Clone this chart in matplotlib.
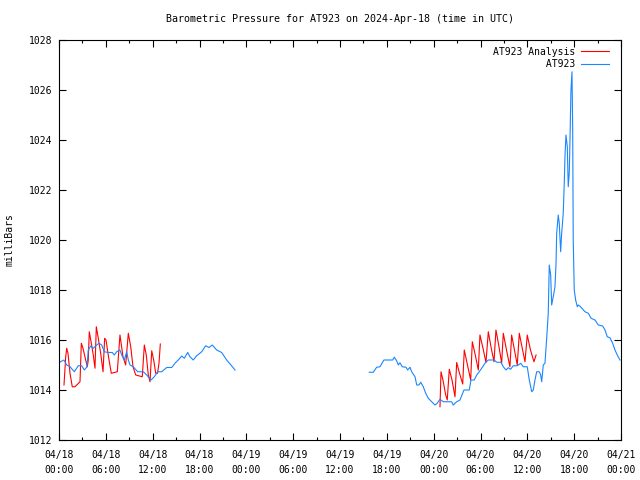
from datetime import datetime, timedelta
import matplotlib
matplotlib.use("Agg")
import matplotlib.pyplot as plt
import matplotlib.dates as mdates
import numpy as np

START = datetime(2024, 4, 18)

# observations, hours since 2024-04-18 00:00 UTC (two runs with a gap)
obs_hours_a = [0.13, 0.64, 0.99, 1.41, 1.96, 2.47, 2.91, 3.24, 3.59, 3.75, 4.06, 4.39,
               4.83, 5.12, 5.47, 5.80, 6.32, 6.83, 7.08, 7.39, 7.81, 8.03, 8.37, 8.67,
               8.88, 9.10, 9.52, 10.08, 10.80, 11.24, 11.79, 12.21, 12.64, 13.16, 13.80,
               14.44, 14.86, 15.28, 15.72, 16.05, 16.49, 16.78, 17.20, 17.64, 18.28,
               18.79, 19.22, 19.64, 20.20, 20.84, 21.48, 22.03, 22.55]
obs_mb_a = [1015.12, 1015.2, 1015.0, 1014.93, 1014.73, 1014.97, 1014.97, 1014.8,
            1014.93, 1015.6, 1015.76, 1015.67, 1015.8, 1015.87, 1015.8, 1015.53,
            1015.5, 1015.5, 1015.4, 1015.53, 1015.6, 1015.4, 1015.2, 1015.53, 1015.2,
            1015.0, 1014.93, 1014.73, 1014.73, 1014.6, 1014.4, 1014.53, 1014.73,
            1014.73, 1014.9, 1014.9, 1015.07, 1015.2, 1015.36, 1015.27, 1015.5,
            1015.33, 1015.2, 1015.37, 1015.53, 1015.77, 1015.7, 1015.8, 1015.6,
            1015.5, 1015.2, 1015.0, 1014.8]

obs_hours_b = [39.75, 40.26, 40.70, 41.12, 41.63, 42.75, 42.95, 43.26, 43.47, 43.68,
               43.98, 44.45, 44.67, 44.97, 45.18, 45.61, 45.83, 46.12, 46.34, 46.67,
               46.98, 47.31, 47.75, 48.17, 48.46, 48.81, 49.23, 49.74, 50.31, 50.51,
               50.95, 51.37, 51.88, 52.56, 52.78, 53.20, 53.51, 53.84, 54.28, 54.57,
               54.99, 55.76, 56.07, 56.62, 56.92, 57.26, 57.56, 57.86, 58.20, 58.71,
               59.15, 59.48, 59.99, 60.25, 60.43, 60.56, 60.76, 60.98, 61.20, 61.53,
               61.71, 61.84, 62.04, 62.26, 62.48, 62.68, 62.81, 62.99, 63.12, 63.32,
               63.54, 63.67, 63.76, 63.96, 64.09, 64.27, 64.40, 64.60, 64.73, 64.82,
               64.95, 65.12, 65.24, 65.37, 65.46, 65.59, 65.72, 65.81, 65.88, 66.01,
               66.19, 66.40, 66.53, 66.75, 67.39, 67.81, 68.16, 68.67, 69.09, 69.65,
               69.95, 70.24, 70.59, 70.93, 71.23, 71.52, 71.87]
obs_mb_b = [1014.71, 1014.71, 1014.91, 1014.93, 1015.2, 1015.2, 1015.31, 1015.17,
            1015.0, 1015.09, 1014.93, 1014.91, 1014.8, 1014.91, 1014.73, 1014.53,
            1014.2, 1014.2, 1014.31, 1014.13, 1013.87, 1013.67, 1013.53, 1013.4,
            1013.47, 1013.63, 1013.53, 1013.53, 1013.53, 1013.4, 1013.53, 1013.6,
            1014.0, 1014.0, 1014.4, 1014.4, 1014.6, 1014.73, 1014.93, 1015.07,
            1015.2, 1015.2, 1015.11, 1015.11, 1014.93, 1014.8, 1014.89, 1014.83,
            1014.97, 1014.97, 1015.07, 1014.93, 1014.93, 1014.4, 1014.13, 1013.93,
            1014.0, 1014.4, 1014.73, 1014.73, 1014.6, 1014.33, 1015.0, 1015.07,
            1016.07, 1017.07, 1019.0, 1018.6, 1017.4, 1017.73, 1018.13, 1019.0,
            1020.27, 1021.0, 1020.67, 1019.53, 1020.27, 1021.07, 1022.27, 1023.33,
            1024.2, 1023.73, 1022.13, 1022.67, 1023.93, 1026.0, 1026.73, 1024.47,
            1020.0, 1018.0, 1017.6, 1017.33, 1017.4, 1017.35, 1017.13, 1017.07,
            1016.87, 1016.8, 1016.6, 1016.56, 1016.4, 1016.13, 1016.09, 1015.87,
            1015.6, 1015.4, 1015.2]

# analysis
ana_hours_a = [0.64, 0.86, 0.99, 1.15, 1.41, 1.70, 2.05, 2.69, 2.86, 3.07, 3.42, 3.63,
               3.75, 3.88, 4.14, 4.39, 4.61, 4.78, 5.00, 5.34, 5.64, 5.85, 6.02, 6.41,
               6.70, 7.47, 7.81, 8.20, 8.54, 8.88, 9.19, 9.48, 9.83, 10.67, 10.93,
               11.18, 11.44, 11.66, 11.88, 12.17, 12.39, 12.62, 12.81, 12.98]
ana_mb_a = [1014.2, 1015.33, 1015.67, 1015.47, 1014.67, 1014.13, 1014.13, 1014.33,
            1015.87, 1015.67, 1015.2, 1014.93, 1015.2, 1016.33, 1015.87, 1015.4,
            1014.87, 1016.53, 1016.13, 1015.47, 1014.73, 1016.07, 1016.0, 1015.2,
            1014.67, 1014.73, 1016.2, 1015.33, 1015.0, 1016.27, 1015.73, 1014.93,
            1014.6, 1014.53, 1015.8, 1015.4, 1014.6, 1014.33, 1015.57, 1015.13,
            1014.67, 1014.67, 1015.07, 1015.84]

ana_hours_b = [48.81, 48.94, 49.19, 49.54, 49.74, 50.0, 50.35, 50.73, 50.95, 51.31,
               51.72, 51.92, 52.33, 52.74, 52.95, 53.33, 53.72, 53.93, 54.32, 54.70,
               55.0, 55.34, 55.73, 55.98, 56.37, 56.71, 56.92, 57.33, 57.77, 57.99,
               58.35, 58.71, 58.97, 59.31, 59.70, 59.99, 60.40, 60.85, 61.12]
ana_mb_b = [1013.33, 1014.73, 1014.4, 1013.8, 1013.6, 1014.83, 1014.4, 1013.73,
            1015.1, 1014.67, 1014.24, 1015.6, 1015.0, 1014.4, 1015.93, 1015.4,
            1014.8, 1016.2, 1015.67, 1015.1, 1016.33, 1015.73, 1015.13, 1016.4,
            1015.73, 1015.07, 1016.27, 1015.6, 1014.93, 1016.2, 1015.6, 1015.0,
            1016.27, 1015.73, 1015.13, 1016.2, 1015.6, 1015.13, 1015.4]

RED = "#ff0000"
BLUE = "#1a86ff"
FONT = "DejaVu Sans Mono"
plt.rcParams["font.family"] = FONT
plt.rcParams["font.size"] = 7


def to_times(hours):
    return [START + timedelta(hours=h) for h in hours]


fig = plt.figure(figsize=(6.4, 4.8), dpi=100)
ax = fig.add_axes([59 / 640, 40 / 480, 562 / 640, 400 / 480])

ax.plot(to_times(ana_hours_a), ana_mb_a, color=RED, lw=0.8, label="AT923 Analysis")
ax.plot(to_times(ana_hours_b), ana_mb_b, color=RED, lw=0.8)
ax.plot(to_times(obs_hours_a), obs_mb_a, color=BLUE, lw=0.8, label="         AT923")
ax.plot(to_times(obs_hours_b), obs_mb_b, color=BLUE, lw=0.8)

ax.set_xlim(START, START + timedelta(hours=72))
ax.set_ylim(1012, 1028)
ax.set_yticks(np.arange(1012, 1029, 2))
ax.xaxis.set_major_locator(mdates.HourLocator(byhour=[0, 6, 12, 18]))
ax.xaxis.set_minor_locator(mdates.HourLocator(byhour=[3, 9, 15, 21]))
ax.xaxis.set_major_formatter(mdates.DateFormatter("%m/%d\n%H:%M"))

ax.tick_params(which="both", direction="in", top=True, right=True, width=0.8,
               labelsize=7, color="black")
ax.tick_params(which="major", length=5, pad=5)
ax.tick_params(which="minor", length=2.5)
ax.tick_params(axis="x", which="major", pad=7)
for lab in ax.get_xticklabels():
    lab.set_linespacing(1.65)
for s in ax.spines.values():
    s.set_linewidth(0.8)

ax.set_ylabel("milliBars", fontsize=7, labelpad=10)
ax.set_title("Barometric Pressure for AT923 on 2024-Apr-18 (time in UTC)",
             fontsize=7.2, pad=13)

ax.legend(loc="upper right", bbox_to_anchor=(0.991, 1.0), frameon=False,
          markerfirst=False, fontsize=7, handlelength=2.9, handletextpad=0.6,
          borderaxespad=0.3, labelspacing=0.25)

fig.savefig("out.png", dpi=100)
